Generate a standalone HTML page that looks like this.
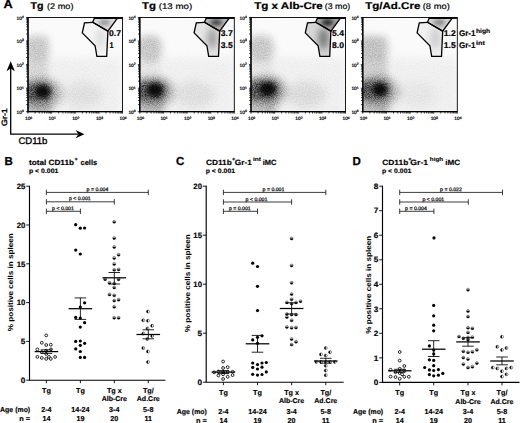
<!DOCTYPE html>
<html><head><meta charset="utf-8"><style>
html,body{margin:0;padding:0;background:#fff;width:520px;height:423px;overflow:hidden}
svg{display:block}
text{font-family:"Liberation Sans", sans-serif;text-rendering:geometricPrecision}
</style></head><body>
<svg width="520" height="423" viewBox="0 0 520 423">

<defs>
<radialGradient id="gBlob"><stop offset="0.000" stop-color="#000" stop-opacity="1.000"/><stop offset="0.111" stop-color="#000" stop-opacity="0.959"/><stop offset="0.222" stop-color="#000" stop-opacity="0.846"/><stop offset="0.333" stop-color="#000" stop-opacity="0.687"/><stop offset="0.444" stop-color="#000" stop-opacity="0.513"/><stop offset="0.556" stop-color="#000" stop-opacity="0.352"/><stop offset="0.667" stop-color="#000" stop-opacity="0.223"/><stop offset="0.778" stop-color="#000" stop-opacity="0.129"/><stop offset="0.889" stop-color="#000" stop-opacity="0.069"/><stop offset="1.000" stop-color="#000" stop-opacity="0.034"/></radialGradient>
<radialGradient id="gSoft"><stop offset="0.000" stop-color="#000" stop-opacity="1.000"/><stop offset="0.111" stop-color="#000" stop-opacity="0.959"/><stop offset="0.222" stop-color="#000" stop-opacity="0.846"/><stop offset="0.333" stop-color="#000" stop-opacity="0.687"/><stop offset="0.444" stop-color="#000" stop-opacity="0.513"/><stop offset="0.556" stop-color="#000" stop-opacity="0.352"/><stop offset="0.667" stop-color="#000" stop-opacity="0.223"/><stop offset="0.778" stop-color="#000" stop-opacity="0.129"/><stop offset="0.889" stop-color="#000" stop-opacity="0.069"/><stop offset="1.000" stop-color="#000" stop-opacity="0.034"/></radialGradient>
<filter id="noise" x="0" y="0" width="100%" height="100%"><feTurbulence type="fractalNoise" baseFrequency="0.9" numOctaves="1" seed="3"/><feColorMatrix values="0 0 0 0 1  0 0 0 0 1  0 0 0 0 1  0 0 0 0.18 0"/></filter>
<filter id="b5" x="-50%" y="-50%" width="200%" height="200%"><feGaussianBlur stdDeviation="5"/></filter>
<filter id="b3" x="-50%" y="-50%" width="200%" height="200%"><feGaussianBlur stdDeviation="3.5"/></filter>
<filter id="b2" x="-50%" y="-50%" width="200%" height="200%"><feGaussianBlur stdDeviation="2"/></filter>
<filter id="grain" x="0" y="0" width="100%" height="100%" color-interpolation-filters="sRGB"><feTurbulence type="fractalNoise" baseFrequency="0.9" numOctaves="2" seed="7" result="n"/><feColorMatrix in="n" type="matrix" values="0 0 0 0 0  0 0 0 0 0  0 0 0 0 0  2.2 0 0 0 -0.6" result="na"/><feComposite in="SourceGraphic" in2="na" operator="arithmetic" k1="0.55" k2="0.75" k3="0" k4="0"/></filter>
</defs>
<text x="3.60" y="8.40" font-size="11.5" font-weight="bold" textLength="9.21" lengthAdjust="spacingAndGlyphs" stroke="#000" stroke-width="0.253">A</text>
<clipPath id="clip0"><rect x="28.0" y="17.5" width="94.5" height="94.2"/></clipPath>
<g clip-path="url(#clip0)">
<g filter="url(#grain)">
<rect x="28.0" y="17.5" width="94.5" height="94.2" fill="#000" opacity="0.02"/>
<g filter="url(#b5)">
<rect x="48.0" y="57.5" width="75" height="60" fill="#000" opacity="0.04"/>
<ellipse cx="83.0" cy="94.5" rx="20" ry="13" fill="#000" opacity="0.064"/>
</g>
<g filter="url(#b3)">
<rect x="22.0" y="36.5" width="26" height="50" fill="#000" opacity="0.14"/>
<ellipse cx="38.0" cy="48.5" rx="13" ry="14" fill="#000" opacity="0.06"/>
</g>
<g filter="url(#b3)">
<ellipse cx="42.1" cy="93.5" rx="21" ry="16" fill="#000" opacity="0.2"/>
<rect x="23.0" y="97.5" width="28.1" height="25" fill="#000" opacity="0.22"/>
<rect x="23.0" y="83.0" width="30.1" height="18.0" rx="8" fill="#000" opacity="0.55"/>
</g>
</g>
<g filter="url(#b2)"><ellipse cx="42.6" cy="91.5" rx="7.4" ry="6.5" fill="#000" opacity="0.85"/></g>
<clipPath id="cl0"><polygon points="92.7,22.3 84.5,22.9 82.3,32.9 95.1,45.7 96.9,56.3 106.7,56.3 107.9,31.1"/></clipPath><clipPath id="ct0"><polygon points="94.5,17.8 117.6,17.8 107.9,31.1 92.7,22.3"/></clipPath>
<polygon points="92.7,22.3 84.5,22.9 82.3,32.9 95.1,45.7 96.9,56.3 106.7,56.3 107.9,31.1" fill="#fff"/>
<polygon points="92.7,22.3 84.5,22.9 82.3,32.9 95.1,45.7 96.9,56.3 106.7,56.3 107.9,31.1" fill="#000" fill-opacity="0.04"/>
<g clip-path="url(#cl0)"><g filter="url(#b3)"><ellipse cx="100.5" cy="38.5" rx="5" ry="11" fill="#000" opacity="0.1"/></g></g>
<polygon points="94.5,17.8 117.6,17.8 107.9,31.1 92.7,22.3" fill="#fff"/>
<polygon points="94.5,17.8 117.6,17.8 107.9,31.1 92.7,22.3" fill="#000" fill-opacity="0.12"/>
<g clip-path="url(#ct0)"><g filter="url(#b2)"><ellipse cx="104.5" cy="22.5" rx="6" ry="3" fill="#000" opacity="0.35"/></g></g>
</g>
<polygon points="92.7,22.3 84.5,22.9 82.3,32.9 95.1,45.7 96.9,56.3 106.7,56.3 107.9,31.1" fill="none" stroke="#000" stroke-width="1.3" stroke-linejoin="miter"/>
<polygon points="94.5,17.8 117.6,17.8 107.9,31.1 92.7,22.3" fill="none" stroke="#000" stroke-width="1.3"/>
<line x1="94.0" y1="18.1" x2="122.5" y2="18.1" stroke="#000" stroke-width="1.6"/>
<rect x="28.0" y="17.5" width="94.5" height="94.2" fill="none" stroke="#000" stroke-width="0.9"/>
<line x1="28.0" y1="17.0" x2="28.0" y2="112.2" stroke="#000" stroke-width="1.3"/>
<line x1="27.5" y1="111.7" x2="122.5" y2="111.7" stroke="#000" stroke-width="1.3"/>
<path d="M35.1,111.7v1.8M28.0,104.6h-1.8M39.3,111.7v1.8M28.0,100.5h-1.8M42.2,111.7v1.8M28.0,97.5h-1.8M44.5,111.7v1.8M28.0,95.2h-1.8M46.4,111.7v1.8M28.0,93.4h-1.8M48.0,111.7v1.8M28.0,91.8h-1.8M49.3,111.7v1.8M28.0,90.4h-1.8M50.5,111.7v1.8M28.0,89.2h-1.8M58.7,111.7v1.8M28.0,81.1h-1.8M62.9,111.7v1.8M28.0,76.9h-1.8M65.8,111.7v1.8M28.0,74.0h-1.8M68.1,111.7v1.8M28.0,71.7h-1.8M70.0,111.7v1.8M28.0,69.8h-1.8M71.6,111.7v1.8M28.0,68.2h-1.8M73.0,111.7v1.8M28.0,66.9h-1.8M74.2,111.7v1.8M28.0,65.7h-1.8M82.4,111.7v1.8M28.0,57.5h-1.8M86.5,111.7v1.8M28.0,53.4h-1.8M89.5,111.7v1.8M28.0,50.4h-1.8M91.8,111.7v1.8M28.0,48.1h-1.8M93.6,111.7v1.8M28.0,46.3h-1.8M95.2,111.7v1.8M28.0,44.7h-1.8M96.6,111.7v1.8M28.0,43.3h-1.8M97.8,111.7v1.8M28.0,42.1h-1.8M106.0,111.7v1.8M28.0,34.0h-1.8M110.1,111.7v1.8M28.0,29.8h-1.8M113.1,111.7v1.8M28.0,26.9h-1.8M115.4,111.7v1.8M28.0,24.6h-1.8M117.3,111.7v1.8M28.0,22.7h-1.8M118.8,111.7v1.8M28.0,21.1h-1.8M120.2,111.7v1.8M28.0,19.8h-1.8M121.4,111.7v1.8M28.0,18.6h-1.8M28.0,111.7v2M28.0,111.7h-2M51.6,111.7v2M28.0,88.2h-2M75.2,111.7v2M28.0,64.6h-2M98.9,111.7v2M28.0,41.0h-2M122.5,111.7v2M28.0,17.5h-2" stroke="#000" stroke-width="0.75" fill="none"/>
<text x="28.6" y="120.3" font-size="4.8" text-anchor="middle" fill="#000" stroke="#000" stroke-width="0.22">10<tspan dy="-1.8" font-size="3.3">0</tspan></text>
<text x="23.8" y="113.9" font-size="4.8" text-anchor="end" fill="#000" stroke="#000" stroke-width="0.22">10<tspan dy="-1.8" font-size="3.3">0</tspan></text>
<text x="52.2" y="120.3" font-size="4.8" text-anchor="middle" fill="#000" stroke="#000" stroke-width="0.22">10<tspan dy="-1.8" font-size="3.3">1</tspan></text>
<text x="23.8" y="90.4" font-size="4.8" text-anchor="end" fill="#000" stroke="#000" stroke-width="0.22">10<tspan dy="-1.8" font-size="3.3">1</tspan></text>
<text x="75.8" y="120.3" font-size="4.8" text-anchor="middle" fill="#000" stroke="#000" stroke-width="0.22">10<tspan dy="-1.8" font-size="3.3">2</tspan></text>
<text x="23.8" y="66.8" font-size="4.8" text-anchor="end" fill="#000" stroke="#000" stroke-width="0.22">10<tspan dy="-1.8" font-size="3.3">2</tspan></text>
<text x="99.5" y="120.3" font-size="4.8" text-anchor="middle" fill="#000" stroke="#000" stroke-width="0.22">10<tspan dy="-1.8" font-size="3.3">3</tspan></text>
<text x="23.8" y="43.2" font-size="4.8" text-anchor="end" fill="#000" stroke="#000" stroke-width="0.22">10<tspan dy="-1.8" font-size="3.3">3</tspan></text>
<text x="123.1" y="120.3" font-size="4.8" text-anchor="middle" fill="#000" stroke="#000" stroke-width="0.22">10<tspan dy="-1.8" font-size="3.3">4</tspan></text>
<text x="23.8" y="19.7" font-size="4.8" text-anchor="end" fill="#000" stroke="#000" stroke-width="0.22">10<tspan dy="-1.8" font-size="3.3">4</tspan></text>
<text x="30.56" y="8.80" font-size="9.8" font-weight="bold" textLength="12.99" lengthAdjust="spacingAndGlyphs" stroke="#000" stroke-width="0.216">Tg</text>
<text x="46.91" y="8.80" font-size="8.2" textLength="26.57" lengthAdjust="spacingAndGlyphs" stroke="#000" stroke-width="0.18">(2 mo)</text>
<text x="109.01" y="36.40" font-size="8.3" font-weight="bold" textLength="11.98" lengthAdjust="spacingAndGlyphs" stroke="#000" stroke-width="0.183">0.7</text>
<text x="109.61" y="48.40" font-size="8.3" font-weight="bold" textLength="4.08" lengthAdjust="spacingAndGlyphs" stroke="#000" stroke-width="0.183">1</text>
<clipPath id="clip1"><rect x="139.8" y="17.5" width="94.5" height="94.2"/></clipPath>
<g clip-path="url(#clip1)">
<g filter="url(#grain)">
<rect x="139.8" y="17.5" width="94.5" height="94.2" fill="#000" opacity="0.02"/>
<g filter="url(#b5)">
<rect x="159.8" y="57.5" width="75" height="60" fill="#000" opacity="0.04"/>
<ellipse cx="194.8" cy="94.5" rx="20" ry="13" fill="#000" opacity="0.072"/>
</g>
<g filter="url(#b3)">
<rect x="133.8" y="36.5" width="26" height="50" fill="#000" opacity="0.08"/>
<ellipse cx="149.8" cy="48.5" rx="13" ry="14" fill="#000" opacity="0.13"/>
</g>
<g filter="url(#b3)">
<ellipse cx="154.5" cy="92.0" rx="21" ry="16" fill="#000" opacity="0.2"/>
<rect x="134.8" y="96.0" width="28.7" height="25" fill="#000" opacity="0.22"/>
<rect x="134.8" y="81.0" width="31.7" height="19" rx="8" fill="#000" opacity="0.55"/>
</g>
</g>
<g filter="url(#b2)"><ellipse cx="155.0" cy="90.0" rx="8.1" ry="6.8" fill="#000" opacity="0.85"/></g>
<clipPath id="cl1"><polygon points="204.5,22.3 196.3,22.9 194.1,32.9 206.9,45.7 208.7,56.3 218.5,56.3 219.7,31.1"/></clipPath><clipPath id="ct1"><polygon points="206.3,17.8 229.4,17.8 219.7,31.1 204.5,22.3"/></clipPath>
<polygon points="204.5,22.3 196.3,22.9 194.1,32.9 206.9,45.7 208.7,56.3 218.5,56.3 219.7,31.1" fill="#fff"/>
<polygon points="204.5,22.3 196.3,22.9 194.1,32.9 206.9,45.7 208.7,56.3 218.5,56.3 219.7,31.1" fill="#000" fill-opacity="0.1"/>
<g clip-path="url(#cl1)"><g filter="url(#b3)"><ellipse cx="212.3" cy="38.5" rx="5" ry="11" fill="#000" opacity="0.3"/></g></g>
<polygon points="206.3,17.8 229.4,17.8 219.7,31.1 204.5,22.3" fill="#fff"/>
<polygon points="206.3,17.8 229.4,17.8 219.7,31.1 204.5,22.3" fill="#000" fill-opacity="0.28"/>
<g clip-path="url(#ct1)"><g filter="url(#b2)"><ellipse cx="216.3" cy="22.5" rx="6" ry="3" fill="#000" opacity="0.7"/></g></g>
</g>
<polygon points="204.5,22.3 196.3,22.9 194.1,32.9 206.9,45.7 208.7,56.3 218.5,56.3 219.7,31.1" fill="none" stroke="#000" stroke-width="1.3" stroke-linejoin="miter"/>
<polygon points="206.3,17.8 229.4,17.8 219.7,31.1 204.5,22.3" fill="none" stroke="#000" stroke-width="1.3"/>
<line x1="205.8" y1="18.1" x2="234.3" y2="18.1" stroke="#000" stroke-width="1.6"/>
<rect x="139.8" y="17.5" width="94.5" height="94.2" fill="none" stroke="#000" stroke-width="0.9"/>
<line x1="139.8" y1="17.0" x2="139.8" y2="112.2" stroke="#000" stroke-width="1.3"/>
<line x1="139.3" y1="111.7" x2="234.3" y2="111.7" stroke="#000" stroke-width="1.3"/>
<path d="M146.9,111.7v1.8M139.8,104.6h-1.8M151.1,111.7v1.8M139.8,100.5h-1.8M154.0,111.7v1.8M139.8,97.5h-1.8M156.3,111.7v1.8M139.8,95.2h-1.8M158.2,111.7v1.8M139.8,93.4h-1.8M159.8,111.7v1.8M139.8,91.8h-1.8M161.1,111.7v1.8M139.8,90.4h-1.8M162.3,111.7v1.8M139.8,89.2h-1.8M170.5,111.7v1.8M139.8,81.1h-1.8M174.7,111.7v1.8M139.8,76.9h-1.8M177.6,111.7v1.8M139.8,74.0h-1.8M179.9,111.7v1.8M139.8,71.7h-1.8M181.8,111.7v1.8M139.8,69.8h-1.8M183.4,111.7v1.8M139.8,68.2h-1.8M184.8,111.7v1.8M139.8,66.9h-1.8M186.0,111.7v1.8M139.8,65.7h-1.8M194.2,111.7v1.8M139.8,57.5h-1.8M198.3,111.7v1.8M139.8,53.4h-1.8M201.3,111.7v1.8M139.8,50.4h-1.8M203.6,111.7v1.8M139.8,48.1h-1.8M205.4,111.7v1.8M139.8,46.3h-1.8M207.0,111.7v1.8M139.8,44.7h-1.8M208.4,111.7v1.8M139.8,43.3h-1.8M209.6,111.7v1.8M139.8,42.1h-1.8M217.8,111.7v1.8M139.8,34.0h-1.8M221.9,111.7v1.8M139.8,29.8h-1.8M224.9,111.7v1.8M139.8,26.9h-1.8M227.2,111.7v1.8M139.8,24.6h-1.8M229.1,111.7v1.8M139.8,22.7h-1.8M230.6,111.7v1.8M139.8,21.1h-1.8M232.0,111.7v1.8M139.8,19.8h-1.8M233.2,111.7v1.8M139.8,18.6h-1.8M139.8,111.7v2M139.8,111.7h-2M163.4,111.7v2M139.8,88.2h-2M187.1,111.7v2M139.8,64.6h-2M210.7,111.7v2M139.8,41.0h-2M234.3,111.7v2M139.8,17.5h-2" stroke="#000" stroke-width="0.75" fill="none"/>
<text x="140.4" y="120.3" font-size="4.8" text-anchor="middle" fill="#000" stroke="#000" stroke-width="0.22">10<tspan dy="-1.8" font-size="3.3">0</tspan></text>
<text x="135.6" y="113.9" font-size="4.8" text-anchor="end" fill="#000" stroke="#000" stroke-width="0.22">10<tspan dy="-1.8" font-size="3.3">0</tspan></text>
<text x="164.0" y="120.3" font-size="4.8" text-anchor="middle" fill="#000" stroke="#000" stroke-width="0.22">10<tspan dy="-1.8" font-size="3.3">1</tspan></text>
<text x="135.6" y="90.4" font-size="4.8" text-anchor="end" fill="#000" stroke="#000" stroke-width="0.22">10<tspan dy="-1.8" font-size="3.3">1</tspan></text>
<text x="187.7" y="120.3" font-size="4.8" text-anchor="middle" fill="#000" stroke="#000" stroke-width="0.22">10<tspan dy="-1.8" font-size="3.3">2</tspan></text>
<text x="135.6" y="66.8" font-size="4.8" text-anchor="end" fill="#000" stroke="#000" stroke-width="0.22">10<tspan dy="-1.8" font-size="3.3">2</tspan></text>
<text x="211.3" y="120.3" font-size="4.8" text-anchor="middle" fill="#000" stroke="#000" stroke-width="0.22">10<tspan dy="-1.8" font-size="3.3">3</tspan></text>
<text x="135.6" y="43.2" font-size="4.8" text-anchor="end" fill="#000" stroke="#000" stroke-width="0.22">10<tspan dy="-1.8" font-size="3.3">3</tspan></text>
<text x="234.9" y="120.3" font-size="4.8" text-anchor="middle" fill="#000" stroke="#000" stroke-width="0.22">10<tspan dy="-1.8" font-size="3.3">4</tspan></text>
<text x="135.6" y="19.7" font-size="4.8" text-anchor="end" fill="#000" stroke="#000" stroke-width="0.22">10<tspan dy="-1.8" font-size="3.3">4</tspan></text>
<text x="141.96" y="8.80" font-size="9.8" font-weight="bold" textLength="13.99" lengthAdjust="spacingAndGlyphs" stroke="#000" stroke-width="0.216">Tg</text>
<text x="158.71" y="8.80" font-size="8.2" textLength="33.47" lengthAdjust="spacingAndGlyphs" stroke="#000" stroke-width="0.18">(13 mo)</text>
<text x="220.81" y="36.40" font-size="8.3" font-weight="bold" textLength="11.98" lengthAdjust="spacingAndGlyphs" stroke="#000" stroke-width="0.183">3.7</text>
<text x="220.81" y="48.40" font-size="8.3" font-weight="bold" textLength="11.98" lengthAdjust="spacingAndGlyphs" stroke="#000" stroke-width="0.183">3.5</text>
<clipPath id="clip2"><rect x="251.0" y="17.5" width="94.5" height="94.2"/></clipPath>
<g clip-path="url(#clip2)">
<g filter="url(#grain)">
<rect x="251.0" y="17.5" width="94.5" height="94.2" fill="#000" opacity="0.02"/>
<g filter="url(#b5)">
<rect x="271.0" y="57.5" width="75" height="60" fill="#000" opacity="0.04"/>
<ellipse cx="306.0" cy="94.5" rx="20" ry="13" fill="#000" opacity="0.088"/>
</g>
<g filter="url(#b3)">
<rect x="245.0" y="36.5" width="27" height="50" fill="#000" opacity="0.08"/>
<ellipse cx="261.0" cy="48.5" rx="14" ry="14" fill="#000" opacity="0.12"/>
</g>
<g filter="url(#b3)">
<ellipse cx="267.0" cy="91.0" rx="21" ry="16" fill="#000" opacity="0.2"/>
<rect x="246.0" y="95.0" width="30" height="25" fill="#000" opacity="0.22"/>
<rect x="246.0" y="80.0" width="33.5" height="19" rx="8" fill="#000" opacity="0.55"/>
</g>
</g>
<g filter="url(#b2)"><ellipse cx="267.5" cy="89.0" rx="8.4" ry="6.8" fill="#000" opacity="0.85"/></g>
<clipPath id="cl2"><polygon points="315.7,22.3 307.5,22.9 305.3,32.9 318.1,45.7 319.9,56.3 329.7,56.3 330.9,31.1"/></clipPath><clipPath id="ct2"><polygon points="317.5,17.8 340.6,17.8 330.9,31.1 315.7,22.3"/></clipPath>
<polygon points="315.7,22.3 307.5,22.9 305.3,32.9 318.1,45.7 319.9,56.3 329.7,56.3 330.9,31.1" fill="#fff"/>
<polygon points="315.7,22.3 307.5,22.9 305.3,32.9 318.1,45.7 319.9,56.3 329.7,56.3 330.9,31.1" fill="#000" fill-opacity="0.16"/>
<g clip-path="url(#cl2)"><g filter="url(#b3)"><ellipse cx="323.5" cy="38.5" rx="5" ry="11" fill="#000" opacity="0.45"/></g></g>
<polygon points="317.5,17.8 340.6,17.8 330.9,31.1 315.7,22.3" fill="#fff"/>
<polygon points="317.5,17.8 340.6,17.8 330.9,31.1 315.7,22.3" fill="#000" fill-opacity="0.36"/>
<g clip-path="url(#ct2)"><g filter="url(#b2)"><ellipse cx="327.5" cy="22.5" rx="6" ry="3" fill="#000" opacity="0.85"/></g></g>
</g>
<polygon points="315.7,22.3 307.5,22.9 305.3,32.9 318.1,45.7 319.9,56.3 329.7,56.3 330.9,31.1" fill="none" stroke="#000" stroke-width="1.3" stroke-linejoin="miter"/>
<polygon points="317.5,17.8 340.6,17.8 330.9,31.1 315.7,22.3" fill="none" stroke="#000" stroke-width="1.3"/>
<line x1="317.0" y1="18.1" x2="345.5" y2="18.1" stroke="#000" stroke-width="1.6"/>
<rect x="251.0" y="17.5" width="94.5" height="94.2" fill="none" stroke="#000" stroke-width="0.9"/>
<line x1="251.0" y1="17.0" x2="251.0" y2="112.2" stroke="#000" stroke-width="1.3"/>
<line x1="250.5" y1="111.7" x2="345.5" y2="111.7" stroke="#000" stroke-width="1.3"/>
<path d="M258.1,111.7v1.8M251.0,104.6h-1.8M262.3,111.7v1.8M251.0,100.5h-1.8M265.2,111.7v1.8M251.0,97.5h-1.8M267.5,111.7v1.8M251.0,95.2h-1.8M269.4,111.7v1.8M251.0,93.4h-1.8M271.0,111.7v1.8M251.0,91.8h-1.8M272.3,111.7v1.8M251.0,90.4h-1.8M273.5,111.7v1.8M251.0,89.2h-1.8M281.7,111.7v1.8M251.0,81.1h-1.8M285.9,111.7v1.8M251.0,76.9h-1.8M288.8,111.7v1.8M251.0,74.0h-1.8M291.1,111.7v1.8M251.0,71.7h-1.8M293.0,111.7v1.8M251.0,69.8h-1.8M294.6,111.7v1.8M251.0,68.2h-1.8M296.0,111.7v1.8M251.0,66.9h-1.8M297.2,111.7v1.8M251.0,65.7h-1.8M305.4,111.7v1.8M251.0,57.5h-1.8M309.5,111.7v1.8M251.0,53.4h-1.8M312.5,111.7v1.8M251.0,50.4h-1.8M314.8,111.7v1.8M251.0,48.1h-1.8M316.6,111.7v1.8M251.0,46.3h-1.8M318.2,111.7v1.8M251.0,44.7h-1.8M319.6,111.7v1.8M251.0,43.3h-1.8M320.8,111.7v1.8M251.0,42.1h-1.8M329.0,111.7v1.8M251.0,34.0h-1.8M333.1,111.7v1.8M251.0,29.8h-1.8M336.1,111.7v1.8M251.0,26.9h-1.8M338.4,111.7v1.8M251.0,24.6h-1.8M340.3,111.7v1.8M251.0,22.7h-1.8M341.8,111.7v1.8M251.0,21.1h-1.8M343.2,111.7v1.8M251.0,19.8h-1.8M344.4,111.7v1.8M251.0,18.6h-1.8M251.0,111.7v2M251.0,111.7h-2M274.6,111.7v2M251.0,88.2h-2M298.2,111.7v2M251.0,64.6h-2M321.9,111.7v2M251.0,41.0h-2M345.5,111.7v2M251.0,17.5h-2" stroke="#000" stroke-width="0.75" fill="none"/>
<text x="251.6" y="120.3" font-size="4.8" text-anchor="middle" fill="#000" stroke="#000" stroke-width="0.22">10<tspan dy="-1.8" font-size="3.3">0</tspan></text>
<text x="246.8" y="113.9" font-size="4.8" text-anchor="end" fill="#000" stroke="#000" stroke-width="0.22">10<tspan dy="-1.8" font-size="3.3">0</tspan></text>
<text x="275.2" y="120.3" font-size="4.8" text-anchor="middle" fill="#000" stroke="#000" stroke-width="0.22">10<tspan dy="-1.8" font-size="3.3">1</tspan></text>
<text x="246.8" y="90.4" font-size="4.8" text-anchor="end" fill="#000" stroke="#000" stroke-width="0.22">10<tspan dy="-1.8" font-size="3.3">1</tspan></text>
<text x="298.9" y="120.3" font-size="4.8" text-anchor="middle" fill="#000" stroke="#000" stroke-width="0.22">10<tspan dy="-1.8" font-size="3.3">2</tspan></text>
<text x="246.8" y="66.8" font-size="4.8" text-anchor="end" fill="#000" stroke="#000" stroke-width="0.22">10<tspan dy="-1.8" font-size="3.3">2</tspan></text>
<text x="322.5" y="120.3" font-size="4.8" text-anchor="middle" fill="#000" stroke="#000" stroke-width="0.22">10<tspan dy="-1.8" font-size="3.3">3</tspan></text>
<text x="246.8" y="43.2" font-size="4.8" text-anchor="end" fill="#000" stroke="#000" stroke-width="0.22">10<tspan dy="-1.8" font-size="3.3">3</tspan></text>
<text x="346.1" y="120.3" font-size="4.8" text-anchor="middle" fill="#000" stroke="#000" stroke-width="0.22">10<tspan dy="-1.8" font-size="3.3">4</tspan></text>
<text x="246.8" y="19.7" font-size="4.8" text-anchor="end" fill="#000" stroke="#000" stroke-width="0.22">10<tspan dy="-1.8" font-size="3.3">4</tspan></text>
<text x="254.16" y="8.80" font-size="9.8" font-weight="bold" textLength="68.69" lengthAdjust="spacingAndGlyphs" stroke="#000" stroke-width="0.216">Tg x Alb-Cre</text>
<text x="324.71" y="8.80" font-size="8.2" textLength="25.57" lengthAdjust="spacingAndGlyphs" stroke="#000" stroke-width="0.18">(3 mo)</text>
<text x="332.01" y="36.40" font-size="8.3" font-weight="bold" textLength="11.98" lengthAdjust="spacingAndGlyphs" stroke="#000" stroke-width="0.183">5.4</text>
<text x="332.01" y="48.40" font-size="8.3" font-weight="bold" textLength="11.98" lengthAdjust="spacingAndGlyphs" stroke="#000" stroke-width="0.183">8.0</text>
<clipPath id="clip3"><rect x="362.8" y="17.5" width="94.5" height="94.2"/></clipPath>
<g clip-path="url(#clip3)">
<g filter="url(#grain)">
<rect x="362.8" y="17.5" width="94.5" height="94.2" fill="#000" opacity="0.02"/>
<g filter="url(#b5)">
<rect x="382.8" y="57.5" width="75" height="60" fill="#000" opacity="0.04"/>
<ellipse cx="417.8" cy="94.5" rx="20" ry="13" fill="#000" opacity="0.040"/>
</g>
<g filter="url(#b3)">
<rect x="356.8" y="36.5" width="30" height="50" fill="#000" opacity="0.17"/>
<ellipse cx="372.8" cy="48.5" rx="17" ry="14" fill="#000" opacity="0.06"/>
</g>
<g filter="url(#b3)">
<ellipse cx="379.3" cy="91.5" rx="21" ry="16" fill="#000" opacity="0.2"/>
<rect x="357.8" y="95.5" width="30.5" height="25" fill="#000" opacity="0.22"/>
<rect x="357.8" y="81.0" width="32.5" height="18.0" rx="8" fill="#000" opacity="0.55"/>
</g>
</g>
<g filter="url(#b2)"><ellipse cx="379.8" cy="89.5" rx="7.4" ry="6.5" fill="#000" opacity="0.85"/></g>
<clipPath id="cl3"><polygon points="427.5,22.3 419.3,22.9 417.1,32.9 429.9,45.7 431.7,56.3 441.5,56.3 442.7,31.1"/></clipPath><clipPath id="ct3"><polygon points="429.3,17.8 452.4,17.8 442.7,31.1 427.5,22.3"/></clipPath>
<polygon points="427.5,22.3 419.3,22.9 417.1,32.9 429.9,45.7 431.7,56.3 441.5,56.3 442.7,31.1" fill="#fff"/>
<polygon points="427.5,22.3 419.3,22.9 417.1,32.9 429.9,45.7 431.7,56.3 441.5,56.3 442.7,31.1" fill="#000" fill-opacity="0.06"/>
<g clip-path="url(#cl3)"><g filter="url(#b3)"><ellipse cx="435.3" cy="38.5" rx="5" ry="11" fill="#000" opacity="0.15"/></g></g>
<polygon points="429.3,17.8 452.4,17.8 442.7,31.1 427.5,22.3" fill="#fff"/>
<polygon points="429.3,17.8 452.4,17.8 442.7,31.1 427.5,22.3" fill="#000" fill-opacity="0.16"/>
<g clip-path="url(#ct3)"><g filter="url(#b2)"><ellipse cx="439.3" cy="22.5" rx="6" ry="3" fill="#000" opacity="0.4"/></g></g>
</g>
<polygon points="427.5,22.3 419.3,22.9 417.1,32.9 429.9,45.7 431.7,56.3 441.5,56.3 442.7,31.1" fill="none" stroke="#000" stroke-width="1.3" stroke-linejoin="miter"/>
<polygon points="429.3,17.8 452.4,17.8 442.7,31.1 427.5,22.3" fill="none" stroke="#000" stroke-width="1.3"/>
<line x1="428.8" y1="18.1" x2="457.3" y2="18.1" stroke="#000" stroke-width="1.6"/>
<rect x="362.8" y="17.5" width="94.5" height="94.2" fill="none" stroke="#000" stroke-width="0.9"/>
<line x1="362.8" y1="17.0" x2="362.8" y2="112.2" stroke="#000" stroke-width="1.3"/>
<line x1="362.3" y1="111.7" x2="457.3" y2="111.7" stroke="#000" stroke-width="1.3"/>
<path d="M369.9,111.7v1.8M362.8,104.6h-1.8M374.1,111.7v1.8M362.8,100.5h-1.8M377.0,111.7v1.8M362.8,97.5h-1.8M379.3,111.7v1.8M362.8,95.2h-1.8M381.2,111.7v1.8M362.8,93.4h-1.8M382.8,111.7v1.8M362.8,91.8h-1.8M384.1,111.7v1.8M362.8,90.4h-1.8M385.3,111.7v1.8M362.8,89.2h-1.8M393.5,111.7v1.8M362.8,81.1h-1.8M397.7,111.7v1.8M362.8,76.9h-1.8M400.6,111.7v1.8M362.8,74.0h-1.8M402.9,111.7v1.8M362.8,71.7h-1.8M404.8,111.7v1.8M362.8,69.8h-1.8M406.4,111.7v1.8M362.8,68.2h-1.8M407.8,111.7v1.8M362.8,66.9h-1.8M409.0,111.7v1.8M362.8,65.7h-1.8M417.2,111.7v1.8M362.8,57.5h-1.8M421.3,111.7v1.8M362.8,53.4h-1.8M424.3,111.7v1.8M362.8,50.4h-1.8M426.6,111.7v1.8M362.8,48.1h-1.8M428.4,111.7v1.8M362.8,46.3h-1.8M430.0,111.7v1.8M362.8,44.7h-1.8M431.4,111.7v1.8M362.8,43.3h-1.8M432.6,111.7v1.8M362.8,42.1h-1.8M440.8,111.7v1.8M362.8,34.0h-1.8M444.9,111.7v1.8M362.8,29.8h-1.8M447.9,111.7v1.8M362.8,26.9h-1.8M450.2,111.7v1.8M362.8,24.6h-1.8M452.1,111.7v1.8M362.8,22.7h-1.8M453.6,111.7v1.8M362.8,21.1h-1.8M455.0,111.7v1.8M362.8,19.8h-1.8M456.2,111.7v1.8M362.8,18.6h-1.8M362.8,111.7v2M362.8,111.7h-2M386.4,111.7v2M362.8,88.2h-2M410.1,111.7v2M362.8,64.6h-2M433.7,111.7v2M362.8,41.0h-2M457.3,111.7v2M362.8,17.5h-2" stroke="#000" stroke-width="0.75" fill="none"/>
<text x="363.4" y="120.3" font-size="4.8" text-anchor="middle" fill="#000" stroke="#000" stroke-width="0.22">10<tspan dy="-1.8" font-size="3.3">0</tspan></text>
<text x="358.6" y="113.9" font-size="4.8" text-anchor="end" fill="#000" stroke="#000" stroke-width="0.22">10<tspan dy="-1.8" font-size="3.3">0</tspan></text>
<text x="387.0" y="120.3" font-size="4.8" text-anchor="middle" fill="#000" stroke="#000" stroke-width="0.22">10<tspan dy="-1.8" font-size="3.3">1</tspan></text>
<text x="358.6" y="90.4" font-size="4.8" text-anchor="end" fill="#000" stroke="#000" stroke-width="0.22">10<tspan dy="-1.8" font-size="3.3">1</tspan></text>
<text x="410.7" y="120.3" font-size="4.8" text-anchor="middle" fill="#000" stroke="#000" stroke-width="0.22">10<tspan dy="-1.8" font-size="3.3">2</tspan></text>
<text x="358.6" y="66.8" font-size="4.8" text-anchor="end" fill="#000" stroke="#000" stroke-width="0.22">10<tspan dy="-1.8" font-size="3.3">2</tspan></text>
<text x="434.3" y="120.3" font-size="4.8" text-anchor="middle" fill="#000" stroke="#000" stroke-width="0.22">10<tspan dy="-1.8" font-size="3.3">3</tspan></text>
<text x="358.6" y="43.2" font-size="4.8" text-anchor="end" fill="#000" stroke="#000" stroke-width="0.22">10<tspan dy="-1.8" font-size="3.3">3</tspan></text>
<text x="457.9" y="120.3" font-size="4.8" text-anchor="middle" fill="#000" stroke="#000" stroke-width="0.22">10<tspan dy="-1.8" font-size="3.3">4</tspan></text>
<text x="358.6" y="19.7" font-size="4.8" text-anchor="end" fill="#000" stroke="#000" stroke-width="0.22">10<tspan dy="-1.8" font-size="3.3">4</tspan></text>
<text x="365.16" y="8.80" font-size="9.8" font-weight="bold" textLength="55.19" lengthAdjust="spacingAndGlyphs" stroke="#000" stroke-width="0.216">Tg/Ad.Cre</text>
<text x="422.71" y="8.80" font-size="8.2" textLength="27.07" lengthAdjust="spacingAndGlyphs" stroke="#000" stroke-width="0.18">(8 mo)</text>
<text x="443.81" y="36.40" font-size="8.3" font-weight="bold" textLength="11.98" lengthAdjust="spacingAndGlyphs" stroke="#000" stroke-width="0.183">1.2</text>
<text x="443.81" y="48.40" font-size="8.3" font-weight="bold" textLength="11.98" lengthAdjust="spacingAndGlyphs" stroke="#000" stroke-width="0.183">1.5</text>
<text x="458.91" y="36.40" font-size="8.3" font-weight="bold" textLength="16.48" lengthAdjust="spacingAndGlyphs" stroke="#000" stroke-width="0.183">Gr-1</text>
<text x="475.98" y="32.60" font-size="6.2" font-weight="bold" textLength="14.23" lengthAdjust="spacingAndGlyphs" stroke="#000" stroke-width="0.136">high</text>
<text x="458.91" y="48.40" font-size="8.3" font-weight="bold" textLength="16.48" lengthAdjust="spacingAndGlyphs" stroke="#000" stroke-width="0.183">Gr-1</text>
<text x="475.98" y="44.60" font-size="6.2" font-weight="bold" textLength="8.83" lengthAdjust="spacingAndGlyphs" stroke="#000" stroke-width="0.136">int</text>
<path d="M10.7,134.85 V66 M10.7,134.2 H78" stroke="#000" stroke-width="1.3" fill="none"/>
<path d="M10.7,61.2 L6.5,71.2 L10.7,68.6 L14.9,71.2 Z" fill="#000"/>
<path d="M84.4,134.2 L75.6,130.1 L78.4,134.2 L75.6,138.3 Z" fill="#000"/>
<text transform="translate(7.3,126.0) rotate(-90)" font-size="7.6" stroke="#000" stroke-width="0.38" textLength="17.8" lengthAdjust="spacingAndGlyphs">Gr-1</text>
<text x="18.4" y="144.4" font-size="9.5" stroke="#000" stroke-width="0.35" textLength="29.0" lengthAdjust="spacingAndGlyphs">CD11b</text>
<text x="4.40" y="164.60" font-size="11.5" font-weight="bold" textLength="8.30" lengthAdjust="spacingAndGlyphs" stroke="#000" stroke-width="0.253">B</text>
<text x="28.93" y="165.00" font-size="7.6" font-weight="bold" textLength="45.13" lengthAdjust="spacingAndGlyphs" stroke="#000" stroke-width="0.167">total CD11b</text>
<text x="74.40" y="161.00" font-size="5.6" font-weight="bold" stroke="#000" stroke-width="0.123">+</text>
<text x="80.53" y="165.00" font-size="7.6" font-weight="bold" textLength="16.63" lengthAdjust="spacingAndGlyphs" stroke="#000" stroke-width="0.167">cells</text>
<text x="28.98" y="173.30" font-size="6.3" font-weight="bold" textLength="29.44" lengthAdjust="spacingAndGlyphs" stroke="#000" stroke-width="0.139">p &lt; 0.001</text>
<path d="M29.5,185.7 V380.2 H165.4" stroke="#000" stroke-width="1.15" fill="none"/>
<text x="25.30" y="382.90" font-size="7.8" font-weight="bold" textLength="4.55" lengthAdjust="spacingAndGlyphs" text-anchor="end" stroke="#000" stroke-width="0.172">0</text>
<text x="25.30" y="344.10" font-size="7.8" font-weight="bold" textLength="4.55" lengthAdjust="spacingAndGlyphs" text-anchor="end" stroke="#000" stroke-width="0.172">5</text>
<text x="25.30" y="305.30" font-size="7.8" font-weight="bold" textLength="8.65" lengthAdjust="spacingAndGlyphs" text-anchor="end" stroke="#000" stroke-width="0.172">10</text>
<text x="25.30" y="266.50" font-size="7.8" font-weight="bold" textLength="8.65" lengthAdjust="spacingAndGlyphs" text-anchor="end" stroke="#000" stroke-width="0.172">15</text>
<text x="25.30" y="227.70" font-size="7.8" font-weight="bold" textLength="8.65" lengthAdjust="spacingAndGlyphs" text-anchor="end" stroke="#000" stroke-width="0.172">20</text>
<text x="25.30" y="188.90" font-size="7.8" font-weight="bold" textLength="8.65" lengthAdjust="spacingAndGlyphs" text-anchor="end" stroke="#000" stroke-width="0.172">25</text>
<path d="M26.2,380.2H29.5M26.2,341.4H29.5M26.2,302.6H29.5M26.2,263.8H29.5M26.2,225.0H29.5M26.2,186.2H29.5M46.4,380.2v3M80.4,380.2v3M114.3,380.2v3M148.3,380.2v3" stroke="#000" stroke-width="0.9" fill="none"/>
<text transform="translate(13.2,282.2) rotate(-90)" font-size="7.3" font-weight="bold" text-anchor="middle" textLength="98" lengthAdjust="spacingAndGlyphs">% positive cells in spleen</text>
<path d="M46.4,192.4H148.3M46.4,189.70000000000002v5.4M148.3,189.70000000000002v5.4" stroke="#1a1a1a" stroke-width="0.85" fill="none"/>
<text x="97.50" y="191.00" font-size="5.0" textLength="21.85" lengthAdjust="spacingAndGlyphs" text-anchor="middle" fill="#111" stroke="#111" stroke-width="0.25">p = 0.004</text>
<path d="M46.4,201.8H114.3M46.4,199.10000000000002v5.4M114.3,199.10000000000002v5.4" stroke="#1a1a1a" stroke-width="0.85" fill="none"/>
<text x="79.80" y="200.40" font-size="5.0" textLength="21.85" lengthAdjust="spacingAndGlyphs" text-anchor="middle" fill="#111" stroke="#111" stroke-width="0.25">p &lt; 0.001</text>
<path d="M46.4,211.3H80.4M46.4,208.60000000000002v5.4M80.4,208.60000000000002v5.4" stroke="#1a1a1a" stroke-width="0.85" fill="none"/>
<text x="63.00" y="209.90" font-size="5.0" textLength="21.85" lengthAdjust="spacingAndGlyphs" text-anchor="middle" fill="#111" stroke="#111" stroke-width="0.25">p &lt; 0.001</text>
<circle cx="46.2" cy="335.4" r="1.4" fill="#fff" stroke="#000" stroke-width="0.85"/>
<circle cx="41.8" cy="342.8" r="1.4" fill="#fff" stroke="#000" stroke-width="0.85"/>
<circle cx="46.2" cy="345" r="1.4" fill="#fff" stroke="#000" stroke-width="0.85"/>
<circle cx="50.8" cy="344.7" r="1.4" fill="#fff" stroke="#000" stroke-width="0.85"/>
<circle cx="37.4" cy="349.4" r="1.4" fill="#fff" stroke="#000" stroke-width="0.85"/>
<circle cx="51" cy="349.4" r="1.4" fill="#fff" stroke="#000" stroke-width="0.85"/>
<circle cx="41.8" cy="352.1" r="1.4" fill="#fff" stroke="#000" stroke-width="0.85"/>
<circle cx="46.2" cy="350.8" r="1.4" fill="#fff" stroke="#000" stroke-width="0.85"/>
<circle cx="46.2" cy="354" r="1.4" fill="#fff" stroke="#000" stroke-width="0.85"/>
<circle cx="37.4" cy="356.9" r="1.4" fill="#fff" stroke="#000" stroke-width="0.85"/>
<circle cx="41.8" cy="357.9" r="1.4" fill="#fff" stroke="#000" stroke-width="0.85"/>
<circle cx="46.2" cy="358.9" r="1.4" fill="#fff" stroke="#000" stroke-width="0.85"/>
<circle cx="48.9" cy="356.9" r="1.4" fill="#fff" stroke="#000" stroke-width="0.85"/>
<circle cx="50.8" cy="358.9" r="1.4" fill="#fff" stroke="#000" stroke-width="0.85"/>
<circle cx="55.1" cy="356.9" r="1.4" fill="#fff" stroke="#000" stroke-width="0.85"/>
<circle cx="75.7" cy="224.7" r="1.6" fill="#000"/>
<circle cx="80.3" cy="228.2" r="1.6" fill="#000"/>
<circle cx="84.6" cy="228.0" r="1.6" fill="#000"/>
<circle cx="75.7" cy="250.1" r="1.6" fill="#000"/>
<circle cx="80.3" cy="254.0" r="1.6" fill="#000"/>
<circle cx="84.6" cy="302.8" r="1.6" fill="#000"/>
<circle cx="80.3" cy="307.0" r="1.6" fill="#000"/>
<circle cx="75.7" cy="317.4" r="1.6" fill="#000"/>
<circle cx="80.3" cy="318.0" r="1.6" fill="#000"/>
<circle cx="84.6" cy="322.7" r="1.6" fill="#000"/>
<circle cx="80.3" cy="327.1" r="1.6" fill="#000"/>
<circle cx="75.7" cy="341.4" r="1.6" fill="#000"/>
<circle cx="80.3" cy="341.0" r="1.6" fill="#000"/>
<circle cx="84.6" cy="343.3" r="1.6" fill="#000"/>
<circle cx="80.3" cy="345.3" r="1.6" fill="#000"/>
<circle cx="75.7" cy="348.9" r="1.6" fill="#000"/>
<circle cx="80.3" cy="351.5" r="1.6" fill="#000"/>
<circle cx="80.3" cy="357.4" r="1.6" fill="#000"/>
<circle cx="84.6" cy="357.4" r="1.6" fill="#000"/>
<circle cx="114.2" cy="221.8" r="1.5" fill="#aaa" stroke="#222" stroke-width="0.4"/><path d="M112.7,221.8 A1.5,1.5 0 0 0 115.7,221.8 Z" fill="#000"/>
<circle cx="114.2" cy="238.1" r="1.5" fill="#aaa" stroke="#222" stroke-width="0.4"/><path d="M112.7,238.1 A1.5,1.5 0 0 0 115.7,238.1 Z" fill="#000"/>
<circle cx="114.2" cy="246.9" r="1.5" fill="#aaa" stroke="#222" stroke-width="0.4"/><path d="M112.7,246.9 A1.5,1.5 0 0 0 115.7,246.9 Z" fill="#000"/>
<circle cx="118.6" cy="254.7" r="1.5" fill="#aaa" stroke="#222" stroke-width="0.4"/><path d="M117.1,254.7 A1.5,1.5 0 0 0 120.1,254.7 Z" fill="#000"/>
<circle cx="114.2" cy="257.9" r="1.5" fill="#aaa" stroke="#222" stroke-width="0.4"/><path d="M112.7,257.9 A1.5,1.5 0 0 0 115.7,257.9 Z" fill="#000"/>
<circle cx="114.2" cy="263.9" r="1.5" fill="#aaa" stroke="#222" stroke-width="0.4"/><path d="M112.7,263.9 A1.5,1.5 0 0 0 115.7,263.9 Z" fill="#000"/>
<circle cx="114.2" cy="269.8" r="1.5" fill="#aaa" stroke="#222" stroke-width="0.4"/><path d="M112.7,269.8 A1.5,1.5 0 0 0 115.7,269.8 Z" fill="#000"/>
<circle cx="118.6" cy="269.4" r="1.5" fill="#aaa" stroke="#222" stroke-width="0.4"/><path d="M117.1,269.4 A1.5,1.5 0 0 0 120.1,269.4 Z" fill="#000"/>
<circle cx="105.1" cy="279.2" r="1.5" fill="#aaa" stroke="#222" stroke-width="0.4"/><path d="M103.6,279.2 A1.5,1.5 0 0 0 106.6,279.2 Z" fill="#000"/>
<circle cx="118.6" cy="279.2" r="1.5" fill="#aaa" stroke="#222" stroke-width="0.4"/><path d="M117.1,279.2 A1.5,1.5 0 0 0 120.1,279.2 Z" fill="#000"/>
<circle cx="109.5" cy="282.8" r="1.5" fill="#aaa" stroke="#222" stroke-width="0.4"/><path d="M108.0,282.8 A1.5,1.5 0 0 0 111.0,282.8 Z" fill="#000"/>
<circle cx="114.2" cy="283.4" r="1.5" fill="#aaa" stroke="#222" stroke-width="0.4"/><path d="M112.7,283.4 A1.5,1.5 0 0 0 115.7,283.4 Z" fill="#000"/>
<circle cx="114.2" cy="287.5" r="1.5" fill="#aaa" stroke="#222" stroke-width="0.4"/><path d="M112.7,287.5 A1.5,1.5 0 0 0 115.7,287.5 Z" fill="#000"/>
<circle cx="109.5" cy="294.5" r="1.5" fill="#aaa" stroke="#222" stroke-width="0.4"/><path d="M108.0,294.5 A1.5,1.5 0 0 0 111.0,294.5 Z" fill="#000"/>
<circle cx="114.2" cy="295.3" r="1.5" fill="#aaa" stroke="#222" stroke-width="0.4"/><path d="M112.7,295.3 A1.5,1.5 0 0 0 115.7,295.3 Z" fill="#000"/>
<circle cx="114.2" cy="300.6" r="1.5" fill="#aaa" stroke="#222" stroke-width="0.4"/><path d="M112.7,300.6 A1.5,1.5 0 0 0 115.7,300.6 Z" fill="#000"/>
<circle cx="118.6" cy="299.7" r="1.5" fill="#aaa" stroke="#222" stroke-width="0.4"/><path d="M117.1,299.7 A1.5,1.5 0 0 0 120.1,299.7 Z" fill="#000"/>
<circle cx="114.2" cy="306.8" r="1.5" fill="#aaa" stroke="#222" stroke-width="0.4"/><path d="M112.7,306.8 A1.5,1.5 0 0 0 115.7,306.8 Z" fill="#000"/>
<circle cx="114.2" cy="317.8" r="1.5" fill="#aaa" stroke="#222" stroke-width="0.4"/><path d="M112.7,317.8 A1.5,1.5 0 0 0 115.7,317.8 Z" fill="#000"/>
<circle cx="118.6" cy="317.8" r="1.5" fill="#aaa" stroke="#222" stroke-width="0.4"/><path d="M117.1,317.8 A1.5,1.5 0 0 0 120.1,317.8 Z" fill="#000"/>
<circle cx="148" cy="311.5" r="1.5" fill="#fff" stroke="#000" stroke-width="0.45"/><path d="M148,310.0 A1.5,1.5 0 0 0 148,313.0 Z" fill="#000"/>
<circle cx="143.3" cy="320.3" r="1.5" fill="#fff" stroke="#000" stroke-width="0.45"/><path d="M143.3,318.8 A1.5,1.5 0 0 0 143.3,321.8 Z" fill="#000"/>
<circle cx="148" cy="320.7" r="1.5" fill="#fff" stroke="#000" stroke-width="0.45"/><path d="M148,319.2 A1.5,1.5 0 0 0 148,322.2 Z" fill="#000"/>
<circle cx="152.2" cy="325.8" r="1.5" fill="#fff" stroke="#000" stroke-width="0.45"/><path d="M152.2,324.3 A1.5,1.5 0 0 0 152.2,327.3 Z" fill="#000"/>
<circle cx="147.5" cy="328.4" r="1.5" fill="#fff" stroke="#000" stroke-width="0.45"/><path d="M147.5,326.9 A1.5,1.5 0 0 0 147.5,329.9 Z" fill="#000"/>
<circle cx="152.2" cy="336" r="1.5" fill="#fff" stroke="#000" stroke-width="0.45"/><path d="M152.2,334.5 A1.5,1.5 0 0 0 152.2,337.5 Z" fill="#000"/>
<circle cx="147.5" cy="339" r="1.5" fill="#fff" stroke="#000" stroke-width="0.45"/><path d="M147.5,337.5 A1.5,1.5 0 0 0 147.5,340.5 Z" fill="#000"/>
<circle cx="143.3" cy="348.1" r="1.5" fill="#fff" stroke="#000" stroke-width="0.45"/><path d="M143.3,346.6 A1.5,1.5 0 0 0 143.3,349.6 Z" fill="#000"/>
<circle cx="148" cy="351.5" r="1.5" fill="#fff" stroke="#000" stroke-width="0.45"/><path d="M148,350.0 A1.5,1.5 0 0 0 148,353.0 Z" fill="#000"/>
<circle cx="148" cy="362" r="1.5" fill="#fff" stroke="#000" stroke-width="0.45"/><path d="M148,360.5 A1.5,1.5 0 0 0 148,363.5 Z" fill="#000"/>
<circle cx="143.3" cy="333.5" r="1.5" fill="#fff" stroke="#000" stroke-width="0.45"/><path d="M143.3,332.0 A1.5,1.5 0 0 0 143.3,335.0 Z" fill="#000"/>
<path d="M34.6,351.6H58.2" stroke="#000" stroke-width="1.25"/>
<path d="M40.6,349.8H52.2M40.6,353.4H52.2M46.4,349.8V353.4" stroke="#000" stroke-width="0.85" fill="none"/>
<path d="M68.6,308.7H92.2" stroke="#000" stroke-width="1.25"/>
<path d="M74.6,297.9H86.2M74.6,319.4H86.2M80.4,297.9V319.4" stroke="#000" stroke-width="0.85" fill="none"/>
<path d="M102.5,277.8H126.1" stroke="#000" stroke-width="1.25"/>
<path d="M108.5,272.5H120.1M108.5,284.0H120.1M114.3,272.5V284.0" stroke="#000" stroke-width="0.85" fill="none"/>
<path d="M136.5,334.5H160.1" stroke="#000" stroke-width="1.25"/>
<path d="M142.5,329.8H154.1M142.5,338.8H154.1M148.3,329.8V338.8" stroke="#000" stroke-width="0.85" fill="none"/>
<text x="46.40" y="392.80" font-size="7.2" font-weight="bold" text-anchor="middle" stroke="#000" stroke-width="0.158">Tg</text>
<text x="46.40" y="411.80" font-size="7.2" font-weight="bold" text-anchor="middle" stroke="#000" stroke-width="0.158">2-4</text>
<text x="46.40" y="420.50" font-size="7.2" font-weight="bold" text-anchor="middle" stroke="#000" stroke-width="0.158">14</text>
<text x="80.40" y="392.80" font-size="7.2" font-weight="bold" text-anchor="middle" stroke="#000" stroke-width="0.158">Tg</text>
<text x="80.40" y="411.80" font-size="7.2" font-weight="bold" text-anchor="middle" stroke="#000" stroke-width="0.158">14-24</text>
<text x="80.40" y="420.50" font-size="7.2" font-weight="bold" text-anchor="middle" stroke="#000" stroke-width="0.158">19</text>
<text x="114.30" y="392.80" font-size="7.2" font-weight="bold" text-anchor="middle" stroke="#000" stroke-width="0.158">Tg x</text>
<text x="114.30" y="401.30" font-size="7.0" font-weight="bold" text-anchor="middle" stroke="#000" stroke-width="0.154">Alb-Cre</text>
<text x="114.30" y="411.80" font-size="7.2" font-weight="bold" text-anchor="middle" stroke="#000" stroke-width="0.158">3-4</text>
<text x="114.30" y="420.50" font-size="7.2" font-weight="bold" text-anchor="middle" stroke="#000" stroke-width="0.158">20</text>
<text x="148.30" y="392.80" font-size="7.2" font-weight="bold" text-anchor="middle" stroke="#000" stroke-width="0.158">Tg/</text>
<text x="148.30" y="401.30" font-size="7.0" font-weight="bold" text-anchor="middle" stroke="#000" stroke-width="0.154">Ad.Cre</text>
<text x="148.30" y="411.80" font-size="7.2" font-weight="bold" text-anchor="middle" stroke="#000" stroke-width="0.158">5-8</text>
<text x="148.30" y="420.50" font-size="7.2" font-weight="bold" text-anchor="middle" stroke="#000" stroke-width="0.158">11</text>
<text x="30.20" y="411.80" font-size="7.2" font-weight="bold" textLength="30.10" lengthAdjust="spacingAndGlyphs" text-anchor="end" stroke="#000" stroke-width="0.158">Age (mo)</text>
<text x="30.20" y="420.50" font-size="7.2" font-weight="bold" textLength="10.90" lengthAdjust="spacingAndGlyphs" text-anchor="end" stroke="#000" stroke-width="0.158">n =</text>
<text x="175.90" y="164.60" font-size="11.5" font-weight="bold" textLength="8.30" lengthAdjust="spacingAndGlyphs" stroke="#000" stroke-width="0.253">C</text>
<text x="205.93" y="165.00" font-size="7.6" font-weight="bold" textLength="25.83" lengthAdjust="spacingAndGlyphs" stroke="#000" stroke-width="0.167">CD11b</text>
<text x="231.90" y="161.00" font-size="5.6" font-weight="bold" stroke="#000" stroke-width="0.123">+</text>
<text x="234.83" y="165.00" font-size="7.6" font-weight="bold" textLength="16.93" lengthAdjust="spacingAndGlyphs" stroke="#000" stroke-width="0.167">Gr-1</text>
<text x="252.90" y="160.60" font-size="5.6" font-weight="bold" textLength="8.09" lengthAdjust="spacingAndGlyphs" stroke="#000" stroke-width="0.123">int</text>
<text x="262.73" y="165.00" font-size="7.6" font-weight="bold" textLength="13.73" lengthAdjust="spacingAndGlyphs" stroke="#000" stroke-width="0.167">iMC</text>
<text x="205.68" y="173.30" font-size="6.3" font-weight="bold" textLength="29.44" lengthAdjust="spacingAndGlyphs" stroke="#000" stroke-width="0.139">p &lt; 0.001</text>
<path d="M206.2,185.7 V382.2 H343.7" stroke="#000" stroke-width="1.15" fill="none"/>
<text x="202.00" y="384.90" font-size="7.8" font-weight="bold" textLength="4.55" lengthAdjust="spacingAndGlyphs" text-anchor="end" stroke="#000" stroke-width="0.172">0</text>
<text x="202.00" y="335.90" font-size="7.8" font-weight="bold" textLength="4.55" lengthAdjust="spacingAndGlyphs" text-anchor="end" stroke="#000" stroke-width="0.172">5</text>
<text x="202.00" y="286.90" font-size="7.8" font-weight="bold" textLength="8.65" lengthAdjust="spacingAndGlyphs" text-anchor="end" stroke="#000" stroke-width="0.172">10</text>
<text x="202.00" y="237.90" font-size="7.8" font-weight="bold" textLength="8.65" lengthAdjust="spacingAndGlyphs" text-anchor="end" stroke="#000" stroke-width="0.172">15</text>
<text x="202.00" y="188.90" font-size="7.8" font-weight="bold" textLength="8.65" lengthAdjust="spacingAndGlyphs" text-anchor="end" stroke="#000" stroke-width="0.172">20</text>
<path d="M202.9,382.2H206.2M202.9,333.2H206.2M202.9,284.2H206.2M202.9,235.2H206.2M202.9,186.2H206.2M223.4,382.2v3M257.5,382.2v3M291.6,382.2v3M325.8,382.2v3" stroke="#000" stroke-width="0.9" fill="none"/>
<text transform="translate(189.9,283.2) rotate(-90)" font-size="7.3" font-weight="bold" text-anchor="middle" textLength="98" lengthAdjust="spacingAndGlyphs">% positive cells in spleen</text>
<path d="M223.4,192.4H325.8M223.4,189.70000000000002v5.4M325.8,189.70000000000002v5.4" stroke="#1a1a1a" stroke-width="0.85" fill="none"/>
<text x="273.50" y="191.00" font-size="5.0" textLength="21.85" lengthAdjust="spacingAndGlyphs" text-anchor="middle" fill="#111" stroke="#111" stroke-width="0.25">p = 0.001</text>
<path d="M223.4,202.0H291.6M223.4,199.3v5.4M291.6,199.3v5.4" stroke="#1a1a1a" stroke-width="0.85" fill="none"/>
<text x="256.50" y="200.60" font-size="5.0" textLength="21.85" lengthAdjust="spacingAndGlyphs" text-anchor="middle" fill="#111" stroke="#111" stroke-width="0.25">p &lt; 0.001</text>
<path d="M223.4,211.3H257.5M223.4,208.60000000000002v5.4M257.5,208.60000000000002v5.4" stroke="#1a1a1a" stroke-width="0.85" fill="none"/>
<text x="239.80" y="209.90" font-size="5.0" textLength="21.85" lengthAdjust="spacingAndGlyphs" text-anchor="middle" fill="#111" stroke="#111" stroke-width="0.25">p = 0.001</text>
<circle cx="223.1" cy="361.5" r="1.4" fill="#fff" stroke="#000" stroke-width="0.85"/>
<circle cx="223.1" cy="368" r="1.4" fill="#fff" stroke="#000" stroke-width="0.85"/>
<circle cx="227.7" cy="367.2" r="1.4" fill="#fff" stroke="#000" stroke-width="0.85"/>
<circle cx="214.2" cy="372.3" r="1.4" fill="#fff" stroke="#000" stroke-width="0.85"/>
<circle cx="218.4" cy="371.5" r="1.4" fill="#fff" stroke="#000" stroke-width="0.85"/>
<circle cx="223.1" cy="372" r="1.4" fill="#fff" stroke="#000" stroke-width="0.85"/>
<circle cx="227.7" cy="372" r="1.4" fill="#fff" stroke="#000" stroke-width="0.85"/>
<circle cx="232.6" cy="371.8" r="1.4" fill="#fff" stroke="#000" stroke-width="0.85"/>
<circle cx="218.4" cy="375.4" r="1.4" fill="#fff" stroke="#000" stroke-width="0.85"/>
<circle cx="223.1" cy="374.3" r="1.4" fill="#fff" stroke="#000" stroke-width="0.85"/>
<circle cx="227.7" cy="376.8" r="1.4" fill="#fff" stroke="#000" stroke-width="0.85"/>
<circle cx="232.6" cy="375.1" r="1.4" fill="#fff" stroke="#000" stroke-width="0.85"/>
<circle cx="223.1" cy="379" r="1.4" fill="#fff" stroke="#000" stroke-width="0.85"/>
<circle cx="252.7" cy="263.2" r="1.6" fill="#000"/>
<circle cx="257.5" cy="266.5" r="1.6" fill="#000"/>
<circle cx="257.5" cy="286.3" r="1.6" fill="#000"/>
<circle cx="257.5" cy="310.6" r="1.6" fill="#000"/>
<circle cx="262" cy="335.8" r="1.6" fill="#000"/>
<circle cx="257.5" cy="337.3" r="1.6" fill="#000"/>
<circle cx="252.7" cy="339.9" r="1.6" fill="#000"/>
<circle cx="257.5" cy="343.3" r="1.6" fill="#000"/>
<circle cx="252.7" cy="363" r="1.6" fill="#000"/>
<circle cx="257.5" cy="364.6" r="1.6" fill="#000"/>
<circle cx="262" cy="363" r="1.6" fill="#000"/>
<circle cx="266.3" cy="362.5" r="1.6" fill="#000"/>
<circle cx="252.7" cy="367.4" r="1.6" fill="#000"/>
<circle cx="257.5" cy="369" r="1.6" fill="#000"/>
<circle cx="262" cy="367.2" r="1.6" fill="#000"/>
<circle cx="252.7" cy="374.3" r="1.6" fill="#000"/>
<circle cx="257.5" cy="375.1" r="1.6" fill="#000"/>
<circle cx="262" cy="374.5" r="1.6" fill="#000"/>
<circle cx="266.3" cy="371.9" r="1.6" fill="#000"/>
<circle cx="291.6" cy="238.5" r="1.5" fill="#aaa" stroke="#222" stroke-width="0.4"/><path d="M290.1,238.5 A1.5,1.5 0 0 0 293.1,238.5 Z" fill="#000"/>
<circle cx="291.6" cy="265.5" r="1.5" fill="#aaa" stroke="#222" stroke-width="0.4"/><path d="M290.1,265.5 A1.5,1.5 0 0 0 293.1,265.5 Z" fill="#000"/>
<circle cx="291.6" cy="282.7" r="1.5" fill="#aaa" stroke="#222" stroke-width="0.4"/><path d="M290.1,282.7 A1.5,1.5 0 0 0 293.1,282.7 Z" fill="#000"/>
<circle cx="291.6" cy="294.1" r="1.5" fill="#aaa" stroke="#222" stroke-width="0.4"/><path d="M290.1,294.1 A1.5,1.5 0 0 0 293.1,294.1 Z" fill="#000"/>
<circle cx="291.6" cy="299.2" r="1.5" fill="#aaa" stroke="#222" stroke-width="0.4"/><path d="M290.1,299.2 A1.5,1.5 0 0 0 293.1,299.2 Z" fill="#000"/>
<circle cx="286.9" cy="302.4" r="1.5" fill="#aaa" stroke="#222" stroke-width="0.4"/><path d="M285.4,302.4 A1.5,1.5 0 0 0 288.4,302.4 Z" fill="#000"/>
<circle cx="291.6" cy="303.6" r="1.5" fill="#aaa" stroke="#222" stroke-width="0.4"/><path d="M290.1,303.6 A1.5,1.5 0 0 0 293.1,303.6 Z" fill="#000"/>
<circle cx="296" cy="302.4" r="1.5" fill="#aaa" stroke="#222" stroke-width="0.4"/><path d="M294.5,302.4 A1.5,1.5 0 0 0 297.5,302.4 Z" fill="#000"/>
<circle cx="300.5" cy="301.2" r="1.5" fill="#aaa" stroke="#222" stroke-width="0.4"/><path d="M299.0,301.2 A1.5,1.5 0 0 0 302.0,301.2 Z" fill="#000"/>
<circle cx="286.9" cy="314" r="1.5" fill="#aaa" stroke="#222" stroke-width="0.4"/><path d="M285.4,314 A1.5,1.5 0 0 0 288.4,314 Z" fill="#000"/>
<circle cx="291.6" cy="314.6" r="1.5" fill="#aaa" stroke="#222" stroke-width="0.4"/><path d="M290.1,314.6 A1.5,1.5 0 0 0 293.1,314.6 Z" fill="#000"/>
<circle cx="296" cy="314.6" r="1.5" fill="#aaa" stroke="#222" stroke-width="0.4"/><path d="M294.5,314.6 A1.5,1.5 0 0 0 297.5,314.6 Z" fill="#000"/>
<circle cx="286.9" cy="317" r="1.5" fill="#aaa" stroke="#222" stroke-width="0.4"/><path d="M285.4,317 A1.5,1.5 0 0 0 288.4,317 Z" fill="#000"/>
<circle cx="291.6" cy="320.2" r="1.5" fill="#aaa" stroke="#222" stroke-width="0.4"/><path d="M290.1,320.2 A1.5,1.5 0 0 0 293.1,320.2 Z" fill="#000"/>
<circle cx="286.9" cy="326.9" r="1.5" fill="#aaa" stroke="#222" stroke-width="0.4"/><path d="M285.4,326.9 A1.5,1.5 0 0 0 288.4,326.9 Z" fill="#000"/>
<circle cx="291.6" cy="327.7" r="1.5" fill="#aaa" stroke="#222" stroke-width="0.4"/><path d="M290.1,327.7 A1.5,1.5 0 0 0 293.1,327.7 Z" fill="#000"/>
<circle cx="296" cy="327.5" r="1.5" fill="#aaa" stroke="#222" stroke-width="0.4"/><path d="M294.5,327.5 A1.5,1.5 0 0 0 297.5,327.5 Z" fill="#000"/>
<circle cx="291.6" cy="339" r="1.5" fill="#aaa" stroke="#222" stroke-width="0.4"/><path d="M290.1,339 A1.5,1.5 0 0 0 293.1,339 Z" fill="#000"/>
<circle cx="296" cy="341.7" r="1.5" fill="#aaa" stroke="#222" stroke-width="0.4"/><path d="M294.5,341.7 A1.5,1.5 0 0 0 297.5,341.7 Z" fill="#000"/>
<circle cx="291.6" cy="344.6" r="1.5" fill="#aaa" stroke="#222" stroke-width="0.4"/><path d="M290.1,344.6 A1.5,1.5 0 0 0 293.1,344.6 Z" fill="#000"/>
<circle cx="325.8" cy="348" r="1.5" fill="#fff" stroke="#000" stroke-width="0.45"/><path d="M325.8,346.5 A1.5,1.5 0 0 0 325.8,349.5 Z" fill="#000"/>
<circle cx="330.1" cy="352.2" r="1.5" fill="#fff" stroke="#000" stroke-width="0.45"/><path d="M330.1,350.7 A1.5,1.5 0 0 0 330.1,353.7 Z" fill="#000"/>
<circle cx="321" cy="354.4" r="1.5" fill="#fff" stroke="#000" stroke-width="0.45"/><path d="M321,352.9 A1.5,1.5 0 0 0 321,355.9 Z" fill="#000"/>
<circle cx="325.8" cy="355.6" r="1.5" fill="#fff" stroke="#000" stroke-width="0.45"/><path d="M325.8,354.1 A1.5,1.5 0 0 0 325.8,357.1 Z" fill="#000"/>
<circle cx="316.5" cy="361.9" r="1.5" fill="#fff" stroke="#000" stroke-width="0.45"/><path d="M316.5,360.4 A1.5,1.5 0 0 0 316.5,363.4 Z" fill="#000"/>
<circle cx="321" cy="361.9" r="1.5" fill="#fff" stroke="#000" stroke-width="0.45"/><path d="M321,360.4 A1.5,1.5 0 0 0 321,363.4 Z" fill="#000"/>
<circle cx="325.8" cy="361.9" r="1.5" fill="#fff" stroke="#000" stroke-width="0.45"/><path d="M325.8,360.4 A1.5,1.5 0 0 0 325.8,363.4 Z" fill="#000"/>
<circle cx="330.1" cy="361.9" r="1.5" fill="#fff" stroke="#000" stroke-width="0.45"/><path d="M330.1,360.4 A1.5,1.5 0 0 0 330.1,363.4 Z" fill="#000"/>
<circle cx="334.9" cy="361.9" r="1.5" fill="#fff" stroke="#000" stroke-width="0.45"/><path d="M334.9,360.4 A1.5,1.5 0 0 0 334.9,363.4 Z" fill="#000"/>
<circle cx="325.8" cy="365.8" r="1.5" fill="#fff" stroke="#000" stroke-width="0.45"/><path d="M325.8,364.3 A1.5,1.5 0 0 0 325.8,367.3 Z" fill="#000"/>
<circle cx="325.8" cy="370.5" r="1.5" fill="#fff" stroke="#000" stroke-width="0.45"/><path d="M325.8,369.0 A1.5,1.5 0 0 0 325.8,372.0 Z" fill="#000"/>
<circle cx="325.8" cy="375.2" r="1.5" fill="#fff" stroke="#000" stroke-width="0.45"/><path d="M325.8,373.7 A1.5,1.5 0 0 0 325.8,376.7 Z" fill="#000"/>
<path d="M211.6,372.1H235.2" stroke="#000" stroke-width="1.25"/>
<path d="M217.6,370.6H229.2M217.6,373.6H229.2M223.4,370.6V373.6" stroke="#000" stroke-width="0.85" fill="none"/>
<path d="M245.7,343.8H269.3" stroke="#000" stroke-width="1.25"/>
<path d="M251.7,335.4H263.3M251.7,352.2H263.3M257.5,335.4V352.2" stroke="#000" stroke-width="0.85" fill="none"/>
<path d="M279.8,308.5H303.4" stroke="#000" stroke-width="1.25"/>
<path d="M285.8,302.8H297.4M285.8,314.0H297.4M291.6,302.8V314.0" stroke="#000" stroke-width="0.85" fill="none"/>
<path d="M314.0,361.0H337.6" stroke="#000" stroke-width="1.25"/>
<path d="M320.0,358.3H331.6M320.0,363.2H331.6M325.8,358.3V363.2" stroke="#000" stroke-width="0.85" fill="none"/>
<text x="223.40" y="394.80" font-size="7.2" font-weight="bold" text-anchor="middle" stroke="#000" stroke-width="0.158">Tg</text>
<text x="223.40" y="413.80" font-size="7.2" font-weight="bold" text-anchor="middle" stroke="#000" stroke-width="0.158">2-4</text>
<text x="223.40" y="422.50" font-size="7.2" font-weight="bold" text-anchor="middle" stroke="#000" stroke-width="0.158">14</text>
<text x="257.50" y="394.80" font-size="7.2" font-weight="bold" text-anchor="middle" stroke="#000" stroke-width="0.158">Tg</text>
<text x="257.50" y="413.80" font-size="7.2" font-weight="bold" text-anchor="middle" stroke="#000" stroke-width="0.158">14-24</text>
<text x="257.50" y="422.50" font-size="7.2" font-weight="bold" text-anchor="middle" stroke="#000" stroke-width="0.158">19</text>
<text x="291.60" y="394.80" font-size="7.2" font-weight="bold" text-anchor="middle" stroke="#000" stroke-width="0.158">Tg x</text>
<text x="291.60" y="403.30" font-size="7.0" font-weight="bold" text-anchor="middle" stroke="#000" stroke-width="0.154">Alb-Cre</text>
<text x="291.60" y="413.80" font-size="7.2" font-weight="bold" text-anchor="middle" stroke="#000" stroke-width="0.158">3-4</text>
<text x="291.60" y="422.50" font-size="7.2" font-weight="bold" text-anchor="middle" stroke="#000" stroke-width="0.158">20</text>
<text x="325.80" y="394.80" font-size="7.2" font-weight="bold" text-anchor="middle" stroke="#000" stroke-width="0.158">Tg/</text>
<text x="325.80" y="403.30" font-size="7.0" font-weight="bold" text-anchor="middle" stroke="#000" stroke-width="0.154">Ad.Cre</text>
<text x="325.80" y="413.80" font-size="7.2" font-weight="bold" text-anchor="middle" stroke="#000" stroke-width="0.158">5-8</text>
<text x="325.80" y="422.50" font-size="7.2" font-weight="bold" text-anchor="middle" stroke="#000" stroke-width="0.158">11</text>
<text x="206.90" y="413.80" font-size="7.2" font-weight="bold" textLength="30.10" lengthAdjust="spacingAndGlyphs" text-anchor="end" stroke="#000" stroke-width="0.158">Age (mo)</text>
<text x="206.90" y="422.50" font-size="7.2" font-weight="bold" textLength="10.90" lengthAdjust="spacingAndGlyphs" text-anchor="end" stroke="#000" stroke-width="0.158">n =</text>
<text x="352.60" y="164.60" font-size="11.5" font-weight="bold" textLength="8.30" lengthAdjust="spacingAndGlyphs" stroke="#000" stroke-width="0.253">D</text>
<text x="382.33" y="165.00" font-size="7.6" font-weight="bold" textLength="25.93" lengthAdjust="spacingAndGlyphs" stroke="#000" stroke-width="0.167">CD11b</text>
<text x="408.20" y="161.00" font-size="5.6" font-weight="bold" stroke="#000" stroke-width="0.123">+</text>
<text x="410.33" y="165.00" font-size="7.6" font-weight="bold" textLength="17.83" lengthAdjust="spacingAndGlyphs" stroke="#000" stroke-width="0.167">Gr-1</text>
<text x="429.80" y="160.60" font-size="5.6" font-weight="bold" textLength="13.29" lengthAdjust="spacingAndGlyphs" stroke="#000" stroke-width="0.123">high</text>
<text x="445.23" y="165.00" font-size="7.6" font-weight="bold" textLength="14.83" lengthAdjust="spacingAndGlyphs" stroke="#000" stroke-width="0.167">iMC</text>
<text x="381.98" y="173.30" font-size="6.3" font-weight="bold" textLength="29.44" lengthAdjust="spacingAndGlyphs" stroke="#000" stroke-width="0.139">p &lt; 0.001</text>
<path d="M382.5,185.7 V382.4 H519.5" stroke="#000" stroke-width="1.15" fill="none"/>
<text x="378.30" y="385.10" font-size="7.8" font-weight="bold" textLength="4.55" lengthAdjust="spacingAndGlyphs" text-anchor="end" stroke="#000" stroke-width="0.172">0</text>
<text x="378.30" y="360.57" font-size="7.8" font-weight="bold" textLength="4.55" lengthAdjust="spacingAndGlyphs" text-anchor="end" stroke="#000" stroke-width="0.172">1</text>
<text x="378.30" y="336.05" font-size="7.8" font-weight="bold" textLength="4.55" lengthAdjust="spacingAndGlyphs" text-anchor="end" stroke="#000" stroke-width="0.172">2</text>
<text x="378.30" y="311.52" font-size="7.8" font-weight="bold" textLength="4.55" lengthAdjust="spacingAndGlyphs" text-anchor="end" stroke="#000" stroke-width="0.172">3</text>
<text x="378.30" y="287.00" font-size="7.8" font-weight="bold" textLength="4.55" lengthAdjust="spacingAndGlyphs" text-anchor="end" stroke="#000" stroke-width="0.172">4</text>
<text x="378.30" y="262.47" font-size="7.8" font-weight="bold" textLength="4.55" lengthAdjust="spacingAndGlyphs" text-anchor="end" stroke="#000" stroke-width="0.172">5</text>
<text x="378.30" y="237.95" font-size="7.8" font-weight="bold" textLength="4.55" lengthAdjust="spacingAndGlyphs" text-anchor="end" stroke="#000" stroke-width="0.172">6</text>
<text x="378.30" y="213.42" font-size="7.8" font-weight="bold" textLength="4.55" lengthAdjust="spacingAndGlyphs" text-anchor="end" stroke="#000" stroke-width="0.172">7</text>
<text x="378.30" y="188.90" font-size="7.8" font-weight="bold" textLength="4.55" lengthAdjust="spacingAndGlyphs" text-anchor="end" stroke="#000" stroke-width="0.172">8</text>
<path d="M379.2,382.4H382.5M379.2,357.9H382.5M379.2,333.3H382.5M379.2,308.8H382.5M379.2,284.3H382.5M379.2,259.8H382.5M379.2,235.2H382.5M379.2,210.7H382.5M379.2,186.2H382.5M399.7,382.4v3M433.7,382.4v3M468.0,382.4v3M502.0,382.4v3" stroke="#000" stroke-width="0.9" fill="none"/>
<text transform="translate(370.6,284.8) rotate(-90)" font-size="7.3" font-weight="bold" text-anchor="middle" textLength="98" lengthAdjust="spacingAndGlyphs">% positive cells in spleen</text>
<path d="M399.7,192.4H502.5M399.7,189.70000000000002v5.4M502.5,189.70000000000002v5.4" stroke="#1a1a1a" stroke-width="0.85" fill="none"/>
<text x="451.00" y="191.00" font-size="5.0" textLength="21.85" lengthAdjust="spacingAndGlyphs" text-anchor="middle" fill="#111" stroke="#111" stroke-width="0.25">p = 0.022</text>
<path d="M399.7,202.0H468.3M399.7,199.3v5.4M468.3,199.3v5.4" stroke="#1a1a1a" stroke-width="0.85" fill="none"/>
<text x="433.30" y="200.60" font-size="5.0" textLength="21.85" lengthAdjust="spacingAndGlyphs" text-anchor="middle" fill="#111" stroke="#111" stroke-width="0.25">p &lt; 0.001</text>
<path d="M399.7,211.3H433.9M399.7,208.60000000000002v5.4M433.9,208.60000000000002v5.4" stroke="#1a1a1a" stroke-width="0.85" fill="none"/>
<text x="416.00" y="209.90" font-size="5.0" textLength="21.85" lengthAdjust="spacingAndGlyphs" text-anchor="middle" fill="#111" stroke="#111" stroke-width="0.25">p = 0.004</text>
<circle cx="399.7" cy="352" r="1.4" fill="#fff" stroke="#000" stroke-width="0.85"/>
<circle cx="399.7" cy="360.6" r="1.4" fill="#fff" stroke="#000" stroke-width="0.85"/>
<circle cx="404.3" cy="366" r="1.4" fill="#fff" stroke="#000" stroke-width="0.85"/>
<circle cx="390.6" cy="369.7" r="1.4" fill="#fff" stroke="#000" stroke-width="0.85"/>
<circle cx="395.5" cy="372.1" r="1.4" fill="#fff" stroke="#000" stroke-width="0.85"/>
<circle cx="399.7" cy="368.8" r="1.4" fill="#fff" stroke="#000" stroke-width="0.85"/>
<circle cx="404.3" cy="370.5" r="1.4" fill="#fff" stroke="#000" stroke-width="0.85"/>
<circle cx="399.7" cy="373" r="1.4" fill="#fff" stroke="#000" stroke-width="0.85"/>
<circle cx="390.6" cy="376.6" r="1.4" fill="#fff" stroke="#000" stroke-width="0.85"/>
<circle cx="395.5" cy="377.1" r="1.4" fill="#fff" stroke="#000" stroke-width="0.85"/>
<circle cx="399.7" cy="378.8" r="1.4" fill="#fff" stroke="#000" stroke-width="0.85"/>
<circle cx="404.3" cy="376.8" r="1.4" fill="#fff" stroke="#000" stroke-width="0.85"/>
<circle cx="408.8" cy="376.8" r="1.4" fill="#fff" stroke="#000" stroke-width="0.85"/>
<circle cx="402.1" cy="374.3" r="1.4" fill="#fff" stroke="#000" stroke-width="0.85"/>
<circle cx="434" cy="237.9" r="1.6" fill="#000"/>
<circle cx="433.7" cy="305.4" r="1.6" fill="#000"/>
<circle cx="433.7" cy="315.8" r="1.6" fill="#000"/>
<circle cx="433.7" cy="325.2" r="1.6" fill="#000"/>
<circle cx="433.7" cy="330.8" r="1.6" fill="#000"/>
<circle cx="429.4" cy="345.9" r="1.6" fill="#000"/>
<circle cx="433.7" cy="350.1" r="1.6" fill="#000"/>
<circle cx="433.7" cy="353.9" r="1.6" fill="#000"/>
<circle cx="429.4" cy="359.8" r="1.6" fill="#000"/>
<circle cx="433.7" cy="360.4" r="1.6" fill="#000"/>
<circle cx="433.7" cy="365.7" r="1.6" fill="#000"/>
<circle cx="424.7" cy="367.5" r="1.6" fill="#000"/>
<circle cx="429.4" cy="369.9" r="1.6" fill="#000"/>
<circle cx="433.7" cy="370.5" r="1.6" fill="#000"/>
<circle cx="438.4" cy="369.6" r="1.6" fill="#000"/>
<circle cx="429.4" cy="374.6" r="1.6" fill="#000"/>
<circle cx="433.7" cy="375.8" r="1.6" fill="#000"/>
<circle cx="438.4" cy="375.2" r="1.6" fill="#000"/>
<circle cx="442.8" cy="373.4" r="1.6" fill="#000"/>
<circle cx="468" cy="289.7" r="1.5" fill="#aaa" stroke="#222" stroke-width="0.4"/><path d="M466.5,289.7 A1.5,1.5 0 0 0 469.5,289.7 Z" fill="#000"/>
<circle cx="468" cy="311" r="1.5" fill="#aaa" stroke="#222" stroke-width="0.4"/><path d="M466.5,311 A1.5,1.5 0 0 0 469.5,311 Z" fill="#000"/>
<circle cx="468" cy="316.6" r="1.5" fill="#aaa" stroke="#222" stroke-width="0.4"/><path d="M466.5,316.6 A1.5,1.5 0 0 0 469.5,316.6 Z" fill="#000"/>
<circle cx="468" cy="327.7" r="1.5" fill="#aaa" stroke="#222" stroke-width="0.4"/><path d="M466.5,327.7 A1.5,1.5 0 0 0 469.5,327.7 Z" fill="#000"/>
<circle cx="472.4" cy="328.3" r="1.5" fill="#aaa" stroke="#222" stroke-width="0.4"/><path d="M470.9,328.3 A1.5,1.5 0 0 0 473.9,328.3 Z" fill="#000"/>
<circle cx="468" cy="332.4" r="1.5" fill="#aaa" stroke="#222" stroke-width="0.4"/><path d="M466.5,332.4 A1.5,1.5 0 0 0 469.5,332.4 Z" fill="#000"/>
<circle cx="459" cy="336.5" r="1.5" fill="#aaa" stroke="#222" stroke-width="0.4"/><path d="M457.5,336.5 A1.5,1.5 0 0 0 460.5,336.5 Z" fill="#000"/>
<circle cx="463.3" cy="338.3" r="1.5" fill="#aaa" stroke="#222" stroke-width="0.4"/><path d="M461.8,338.3 A1.5,1.5 0 0 0 464.8,338.3 Z" fill="#000"/>
<circle cx="468" cy="337.5" r="1.5" fill="#aaa" stroke="#222" stroke-width="0.4"/><path d="M466.5,337.5 A1.5,1.5 0 0 0 469.5,337.5 Z" fill="#000"/>
<circle cx="472.4" cy="337.1" r="1.5" fill="#aaa" stroke="#222" stroke-width="0.4"/><path d="M470.9,337.1 A1.5,1.5 0 0 0 473.9,337.1 Z" fill="#000"/>
<circle cx="468" cy="339.5" r="1.5" fill="#aaa" stroke="#222" stroke-width="0.4"/><path d="M466.5,339.5 A1.5,1.5 0 0 0 469.5,339.5 Z" fill="#000"/>
<circle cx="463.3" cy="351.3" r="1.5" fill="#aaa" stroke="#222" stroke-width="0.4"/><path d="M461.8,351.3 A1.5,1.5 0 0 0 464.8,351.3 Z" fill="#000"/>
<circle cx="468" cy="352.2" r="1.5" fill="#aaa" stroke="#222" stroke-width="0.4"/><path d="M466.5,352.2 A1.5,1.5 0 0 0 469.5,352.2 Z" fill="#000"/>
<circle cx="472.4" cy="351.7" r="1.5" fill="#aaa" stroke="#222" stroke-width="0.4"/><path d="M470.9,351.7 A1.5,1.5 0 0 0 473.9,351.7 Z" fill="#000"/>
<circle cx="476.9" cy="349.8" r="1.5" fill="#aaa" stroke="#222" stroke-width="0.4"/><path d="M475.4,349.8 A1.5,1.5 0 0 0 478.4,349.8 Z" fill="#000"/>
<circle cx="463.3" cy="357.6" r="1.5" fill="#aaa" stroke="#222" stroke-width="0.4"/><path d="M461.8,357.6 A1.5,1.5 0 0 0 464.8,357.6 Z" fill="#000"/>
<circle cx="468" cy="359" r="1.5" fill="#aaa" stroke="#222" stroke-width="0.4"/><path d="M466.5,359 A1.5,1.5 0 0 0 469.5,359 Z" fill="#000"/>
<circle cx="463.3" cy="364" r="1.5" fill="#aaa" stroke="#222" stroke-width="0.4"/><path d="M461.8,364 A1.5,1.5 0 0 0 464.8,364 Z" fill="#000"/>
<circle cx="468" cy="367.5" r="1.5" fill="#aaa" stroke="#222" stroke-width="0.4"/><path d="M466.5,367.5 A1.5,1.5 0 0 0 469.5,367.5 Z" fill="#000"/>
<circle cx="472.4" cy="366.7" r="1.5" fill="#aaa" stroke="#222" stroke-width="0.4"/><path d="M470.9,366.7 A1.5,1.5 0 0 0 473.9,366.7 Z" fill="#000"/>
<circle cx="476.9" cy="363.1" r="1.5" fill="#aaa" stroke="#222" stroke-width="0.4"/><path d="M475.4,363.1 A1.5,1.5 0 0 0 478.4,363.1 Z" fill="#000"/>
<circle cx="502" cy="336.8" r="1.5" fill="#fff" stroke="#000" stroke-width="0.45"/><path d="M502,335.3 A1.5,1.5 0 0 0 502,338.3 Z" fill="#000"/>
<circle cx="497.4" cy="346.8" r="1.5" fill="#fff" stroke="#000" stroke-width="0.45"/><path d="M497.4,345.3 A1.5,1.5 0 0 0 497.4,348.3 Z" fill="#000"/>
<circle cx="502" cy="349.9" r="1.5" fill="#fff" stroke="#000" stroke-width="0.45"/><path d="M502,348.4 A1.5,1.5 0 0 0 502,351.4 Z" fill="#000"/>
<circle cx="506.5" cy="348" r="1.5" fill="#fff" stroke="#000" stroke-width="0.45"/><path d="M506.5,346.5 A1.5,1.5 0 0 0 506.5,349.5 Z" fill="#000"/>
<circle cx="492.8" cy="367.6" r="1.5" fill="#fff" stroke="#000" stroke-width="0.45"/><path d="M492.8,366.1 A1.5,1.5 0 0 0 492.8,369.1 Z" fill="#000"/>
<circle cx="497.4" cy="368.4" r="1.5" fill="#fff" stroke="#000" stroke-width="0.45"/><path d="M497.4,366.9 A1.5,1.5 0 0 0 497.4,369.9 Z" fill="#000"/>
<circle cx="506.5" cy="368.4" r="1.5" fill="#fff" stroke="#000" stroke-width="0.45"/><path d="M506.5,366.9 A1.5,1.5 0 0 0 506.5,369.9 Z" fill="#000"/>
<circle cx="511.2" cy="367.6" r="1.5" fill="#fff" stroke="#000" stroke-width="0.45"/><path d="M511.2,366.1 A1.5,1.5 0 0 0 511.2,369.1 Z" fill="#000"/>
<circle cx="502" cy="371.2" r="1.5" fill="#fff" stroke="#000" stroke-width="0.45"/><path d="M502,369.7 A1.5,1.5 0 0 0 502,372.7 Z" fill="#000"/>
<circle cx="506.5" cy="374.3" r="1.5" fill="#fff" stroke="#000" stroke-width="0.45"/><path d="M506.5,372.8 A1.5,1.5 0 0 0 506.5,375.8 Z" fill="#000"/>
<circle cx="502" cy="376.6" r="1.5" fill="#fff" stroke="#000" stroke-width="0.45"/><path d="M502,375.1 A1.5,1.5 0 0 0 502,378.1 Z" fill="#000"/>
<path d="M387.9,370.8H411.5" stroke="#000" stroke-width="1.25"/>
<path d="M393.9,369.3H405.5M393.9,372.3H405.5M399.7,369.3V372.3" stroke="#000" stroke-width="0.85" fill="none"/>
<path d="M421.9,349.2H445.5" stroke="#000" stroke-width="1.25"/>
<path d="M427.9,340.7H439.5M427.9,356.5H439.5M433.7,340.7V356.5" stroke="#000" stroke-width="0.85" fill="none"/>
<path d="M456.2,341.9H479.8" stroke="#000" stroke-width="1.25"/>
<path d="M462.2,337.7H473.8M462.2,346.2H473.8M468.0,337.7V346.2" stroke="#000" stroke-width="0.85" fill="none"/>
<path d="M490.2,361.0H513.8" stroke="#000" stroke-width="1.25"/>
<path d="M496.2,357.0H507.8M496.2,364.8H507.8M502.0,357.0V364.8" stroke="#000" stroke-width="0.85" fill="none"/>
<text x="399.70" y="395.00" font-size="7.2" font-weight="bold" text-anchor="middle" stroke="#000" stroke-width="0.158">Tg</text>
<text x="399.70" y="414.00" font-size="7.2" font-weight="bold" text-anchor="middle" stroke="#000" stroke-width="0.158">2-4</text>
<text x="399.70" y="422.70" font-size="7.2" font-weight="bold" text-anchor="middle" stroke="#000" stroke-width="0.158">14</text>
<text x="433.70" y="395.00" font-size="7.2" font-weight="bold" text-anchor="middle" stroke="#000" stroke-width="0.158">Tg</text>
<text x="433.70" y="414.00" font-size="7.2" font-weight="bold" text-anchor="middle" stroke="#000" stroke-width="0.158">14-24</text>
<text x="433.70" y="422.70" font-size="7.2" font-weight="bold" text-anchor="middle" stroke="#000" stroke-width="0.158">19</text>
<text x="468.00" y="395.00" font-size="7.2" font-weight="bold" text-anchor="middle" stroke="#000" stroke-width="0.158">Tg x</text>
<text x="468.00" y="403.50" font-size="7.0" font-weight="bold" text-anchor="middle" stroke="#000" stroke-width="0.154">Alb-Cre</text>
<text x="468.00" y="414.00" font-size="7.2" font-weight="bold" text-anchor="middle" stroke="#000" stroke-width="0.158">3-4</text>
<text x="468.00" y="422.70" font-size="7.2" font-weight="bold" text-anchor="middle" stroke="#000" stroke-width="0.158">20</text>
<text x="502.00" y="395.00" font-size="7.2" font-weight="bold" text-anchor="middle" stroke="#000" stroke-width="0.158">Tg/</text>
<text x="502.00" y="403.50" font-size="7.0" font-weight="bold" text-anchor="middle" stroke="#000" stroke-width="0.154">Ad.Cre</text>
<text x="502.00" y="414.00" font-size="7.2" font-weight="bold" text-anchor="middle" stroke="#000" stroke-width="0.158">5-8</text>
<text x="502.00" y="422.70" font-size="7.2" font-weight="bold" text-anchor="middle" stroke="#000" stroke-width="0.158">11</text>
<text x="383.20" y="414.00" font-size="7.2" font-weight="bold" textLength="30.10" lengthAdjust="spacingAndGlyphs" text-anchor="end" stroke="#000" stroke-width="0.158">Age (mo)</text>
<text x="383.20" y="422.70" font-size="7.2" font-weight="bold" textLength="10.90" lengthAdjust="spacingAndGlyphs" text-anchor="end" stroke="#000" stroke-width="0.158">n =</text>
</svg></body></html>
